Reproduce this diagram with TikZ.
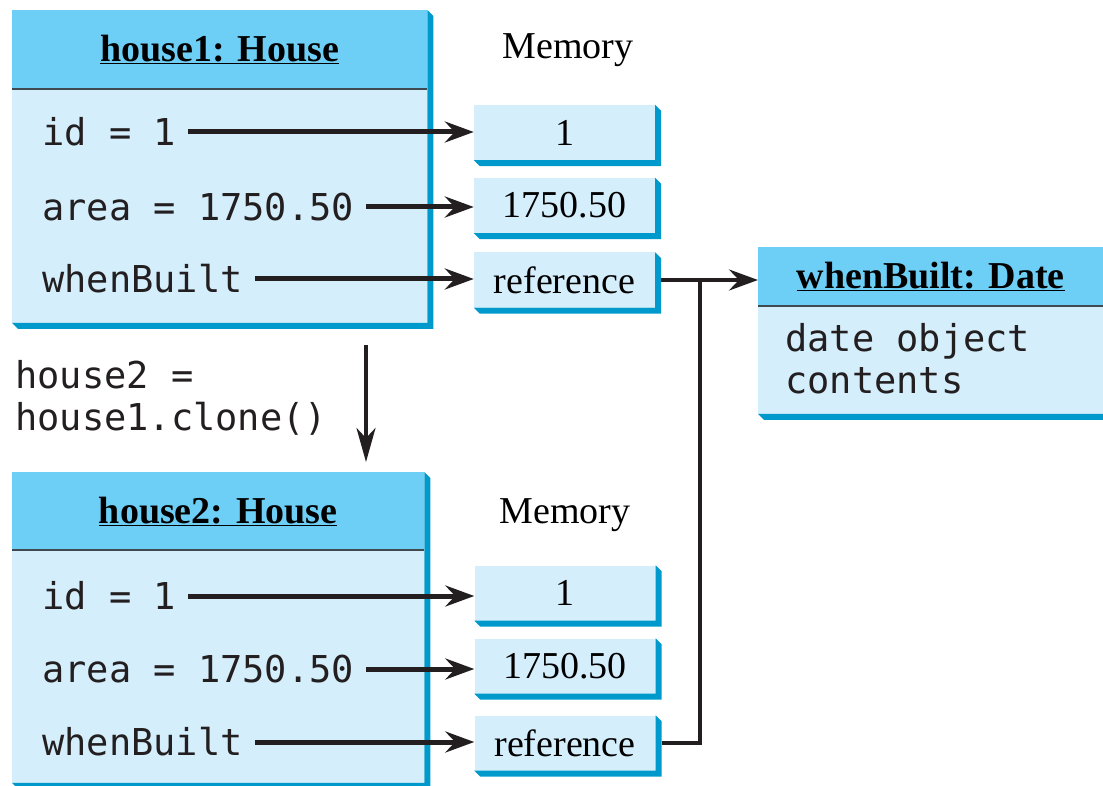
\documentclass[tikz,border=0pt]{standalone}
\usepackage{fontspec}
\setmainfont{Liberation Serif}
\setmonofont{DejaVu Sans Mono}
\usetikzlibrary{arrows.meta,calc}

\definecolor{headblue}{HTML}{6DCFF6}
\definecolor{bodyblue}{HTML}{D4EEFB}
\definecolor{shadeblue}{HTML}{0099CC}
\definecolor{rulegray}{HTML}{3F4A50}
\definecolor{inkblack}{HTML}{231F20}

% bevelled shadow on the right and bottom of a box (top node, bottom node)
\newcommand{\boxshade}[2]{\fill[shadeblue] (#1.north east) -- ++(6,6) -- ($(#2.south east)+(6,6)$) -- ($(#2.south west)+(6,6)$) -- (#2.south west) -- (#2.south east) -- cycle;}

\begin{document}
\begin{tikzpicture}[x=1pt,y=-1pt]
\tikzstyle{headbox}=[fill=headblue,anchor=north west,inner sep=0pt,font=\fontsize{38}{40}\selectfont\bfseries]
\tikzstyle{bodybox}=[fill=bodyblue,anchor=north west,inner sep=0pt]
\tikzstyle{membox}=[fill=bodyblue,minimum width=181,minimum height=55,inner sep=0pt,font=\fontsize{38}{40}\selectfont]
\tikzstyle{field}=[anchor=west,inner sep=0pt,align=left,text=inkblack,font=\fontsize{37}{42}\selectfont\ttfamily]
\tikzstyle{memlabel}=[font=\fontsize{38}{40}\selectfont]
\tikzstyle{myarrow}=[line width=5pt,draw=inkblack,-{Stealth[length=29pt,width=21pt,inset=10pt]}]
\tikzstyle{refline}=[line width=4pt,draw=inkblack]

\useasboundingbox (0,0) rectangle (1103,786);

% house1 object
\node[headbox,minimum width=415,minimum height=79] (h1head) at (12,10) {\underline{house1: House}};
\node[bodybox,minimum width=415,minimum height=233] (h1body) at (h1head.south west) {};
\draw[rulegray,line width=2pt] (h1head.south west) -- (h1head.south east);
\boxshade{h1head}{h1body}

\node[field] (h1id) at (42,132) {id = 1};
\node[field] (h1area) at (42,207) {area = 1750.50};
\node[field] (h1when) at (42,279) {whenBuilt};

\node[memlabel] (mem1) at (568,50) {Memory};
\node[membox] (m1id) at (564.5,132.5) {1};
\node[membox] (m1area) at (564.5,205.5) {1750.50};
\node[membox] (m1ref) at (564.5,280) {reference};
\boxshade{m1id}{m1id}
\boxshade{m1area}{m1area}
\boxshade{m1ref}{m1ref}

\draw[myarrow] ([xshift=12]h1id.east) -- (h1id -| m1id.west);
\draw[myarrow] ([xshift=12]h1area.east) -- (h1area -| m1area.west);
\draw[myarrow] ([xshift=12]h1when.east) -- (h1when -| m1ref.west);

% the clone call
\node[field] (clone) at (15,398) {house2 =\\house1.clone()};
\coordinate (cl1) at (366,345);
\coordinate (cl2) at (366,462);
\draw[line width=3.5pt,draw=inkblack,-{Stealth[length=34pt,width=19pt,inset=10pt]}] (cl1) -- (cl2);

% house2 object
\node[headbox,minimum width=412,minimum height=78] (h2head) at (12,472) {\underline{house2: House}};
\node[bodybox,minimum width=412,minimum height=232] (h2body) at (h2head.south west) {};
\draw[rulegray,line width=2pt] (h2head.south west) -- (h2head.south east);
\boxshade{h2head}{h2body}

\node[field] (h2id) at (42,596) {id = 1};
\node[field] (h2area) at (42,669) {area = 1750.50};
\node[field] (h2when) at (42,742) {whenBuilt};

\node[memlabel] (mem2) at (565,515) {Memory};
\node[membox] (m2id) at (565,593) {1};
\node[membox] (m2area) at (565,666) {1750.50};
\node[membox] (m2ref) at (565,743) {reference};
\boxshade{m2id}{m2id}
\boxshade{m2area}{m2area}
\boxshade{m2ref}{m2ref}

\draw[myarrow] ([xshift=12]h2id.east) -- (h2id -| m2id.west);
\draw[myarrow] ([xshift=12]h2area.east) -- (h2area -| m2area.west);
\draw[myarrow] ([xshift=12]h2when.east) -- (h2when -| m2ref.west);

% the shared Date object
\node[headbox,minimum width=345,minimum height=59] (dhead) at (758,247) {\underline{whenBuilt: Date}};
\node[bodybox,minimum width=345,minimum height=107] (dbody) at (dhead.south west) {};
\draw[rulegray,line width=2pt] (dhead.south west) -- (dhead.south east);
\boxshade{dhead}{dbody}
\node[field] (dtext) at (785,359) {date object\\contents};

\coordinate (junc) at (700,279);
\draw[refline,-{Stealth[length=29pt,width=21pt,inset=10pt]}] ([xshift=6]m1ref.east) -- (m1ref -| dhead.west);
\draw[refline] ([xshift=6]m2ref.east) -| (junc);

\end{tikzpicture}
\end{document}
